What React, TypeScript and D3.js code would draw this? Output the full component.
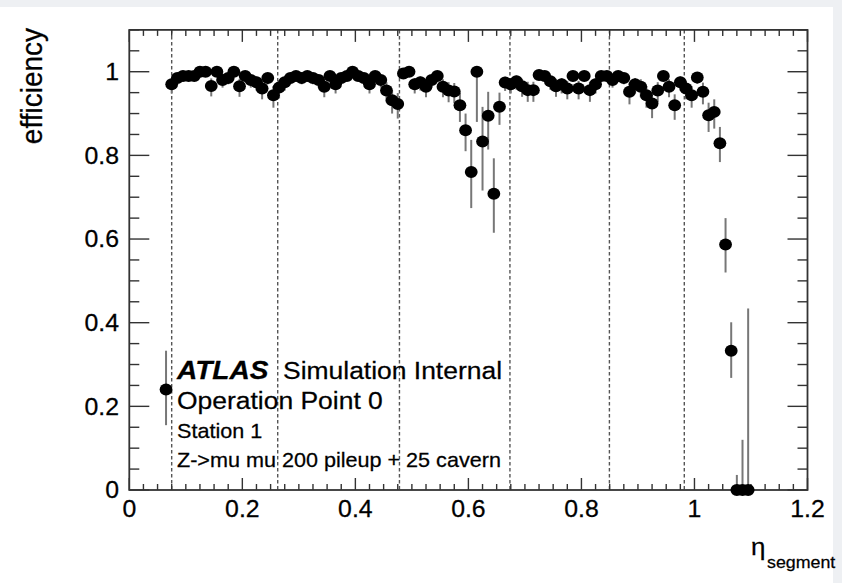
import React from "react";
import * as d3 from "d3";

// bin centres in eta_segment
const eta = [
  0.065, 0.075, 0.085, 0.095, 0.105, 0.115, 0.125, 0.135, 0.145, 0.155, 0.165,
  0.175, 0.185, 0.195, 0.205, 0.215, 0.225, 0.235, 0.245, 0.255, 0.265,
  0.275, 0.285, 0.295, 0.305, 0.315, 0.325, 0.335, 0.345, 0.355, 0.365,
  0.375, 0.385, 0.395, 0.405, 0.415, 0.425, 0.435, 0.445, 0.455, 0.465,
  0.475, 0.485, 0.495, 0.505, 0.515, 0.525, 0.535, 0.545, 0.555, 0.565,
  0.575, 0.585, 0.595, 0.605, 0.615, 0.625, 0.635, 0.645, 0.655, 0.665,
  0.675, 0.685, 0.695, 0.705, 0.715, 0.725, 0.735, 0.745, 0.755, 0.765,
  0.775, 0.785, 0.795, 0.805, 0.815, 0.825, 0.835, 0.845, 0.855, 0.865,
  0.875, 0.885, 0.895, 0.905, 0.915, 0.925, 0.935, 0.945, 0.955, 0.965,
  0.975, 0.985, 0.995, 1.005, 1.015, 1.025, 1.035, 1.045, 1.055, 1.065,
  1.075, 1.085, 1.095,
];

const efficiency = [
  0.24,
  0.97, 0.985, 0.99, 0.99, 0.99, 1.0, 1.0, 0.966, 1.0, 0.98,
  0.985, 1.0, 0.965, 0.99, 0.98, 0.975, 0.96, 0.985, 0.944, 0.962,
  0.975, 0.985, 0.99, 0.985, 0.99, 0.985, 0.98, 0.964, 0.99, 0.97,
  0.985, 0.99, 1.0, 0.99, 0.985, 0.97, 0.99, 0.98, 0.955, 0.932,
  0.923, 0.996, 1.0, 0.97, 0.975, 0.964, 0.98, 0.99, 0.964, 0.955,
  0.953, 0.92, 0.86, 0.76, 1.0, 0.833, 0.895, 0.708, 0.916, 0.974,
  0.97, 0.977, 0.965, 0.956, 0.956, 0.992, 0.99, 0.977, 0.965, 0.97,
  0.96, 0.99, 0.96, 0.99, 0.956, 0.97, 0.99, 0.99, 0.98, 0.99,
  0.985, 0.952, 0.97, 0.964, 0.944, 0.924, 0.955, 0.99, 0.964, 0.92,
  0.975, 0.96, 0.944, 0.986, 0.952, 0.896, 0.904, 0.829, 0.587, 0.333,
  0, 0, 0,
];

const errLow = [
  0.085,
  0.022, 0.015, 0.012, 0.012, 0.012, 0.01, 0.01, 0.025, 0.01, 0.018,
  0.015, 0.01, 0.025, 0.012, 0.018, 0.02, 0.026, 0.015, 0.03, 0.026,
  0.02, 0.015, 0.012, 0.015, 0.012, 0.015, 0.018, 0.025, 0.012, 0.022,
  0.015, 0.012, 0.01, 0.012, 0.015, 0.022, 0.012, 0.018, 0.028, 0.032,
  0.035, 0.01, 0.01, 0.022, 0.02, 0.025, 0.018, 0.012, 0.025, 0.028,
  0.028, 0.04, 0.05, 0.086, 0.12, 0.117, 0.081, 0.093, 0.043, 0.02,
  0.022, 0.02, 0.025, 0.028, 0.028, 0.012, 0.012, 0.02, 0.025, 0.022,
  0.026, 0.012, 0.026, 0.012, 0.028, 0.022, 0.012, 0.012, 0.018, 0.012,
  0.015, 0.03, 0.022, 0.025, 0.03, 0.035, 0.028, 0.012, 0.025, 0.035,
  0.02, 0.026, 0.03, 0.015, 0.03, 0.04, 0.04, 0.045, 0.067, 0.065,
  0, 0, 0,
];

const errHigh = [
  0.093,
  0.015, 0.01, 0.007, 0.007, 0.007, 0, 0, 0.018, 0, 0.012,
  0.01, 0, 0.018, 0.007, 0.012, 0.014, 0.018, 0.01, 0.022, 0.018,
  0.014, 0.01, 0.007, 0.01, 0.007, 0.01, 0.012, 0.018, 0.007, 0.015,
  0.01, 0.007, 0, 0.007, 0.01, 0.015, 0.007, 0.012, 0.02, 0.024,
  0.026, 0.003, 0, 0.015, 0.014, 0.018, 0.012, 0.007, 0.018, 0.02,
  0.02, 0.03, 0.04, 0.077, 0, 0.083, 0.057, 0.085, 0.034, 0.014,
  0.015, 0.014, 0.018, 0.02, 0.02, 0.006, 0.007, 0.014, 0.018, 0.015,
  0.018, 0.007, 0.018, 0.007, 0.02, 0.015, 0.007, 0.007, 0.012, 0.007,
  0.01, 0.022, 0.015, 0.018, 0.022, 0.026, 0.02, 0.007, 0.018, 0.026,
  0.014, 0.018, 0.022, 0.01, 0.022, 0.03, 0.03, 0.039, 0.063, 0.068,
  0.036, 0.12, 0.434,
];

// vertical dashed boundaries
const boundaries = [0.075, 0.2626, 0.478, 0.6735, 0.8495, 0.982];

const xTicks = [0, 0.2, 0.4, 0.6, 0.8, 1.0, 1.2];
const xTickLabels = ["0", "0.2", "0.4", "0.6", "0.8", "1", "1.2"];
const yTicks = [0, 0.2, 0.4, 0.6, 0.8, 1.0];
const yTickLabels = ["0", "0.2", "0.4", "0.6", "0.8", "1"];

const legendLines = [
  "Operation Point 0",
  "Station 1",
  "Z->mu mu 200 pileup + 25 cavern",
];

const W = 842;
const H = 583;
const L = 129.3;
const R = 807.5;
const T = 29.9;
const B = 490;
const SX = 1.08;
const FONT = "'Liberation Sans', Arial, Helvetica, sans-serif";

function Txt(props: any) {
  const { x, y, size, anchor = "start", weight = "normal", italic = false, rotate = 0, children } = props;
  return (
    <text
      transform={`translate(${x},${y}) scale(${SX},1)${rotate ? ` rotate(${rotate})` : ""}`}
      fontSize={size}
      textAnchor={anchor}
      fontWeight={weight}
      fontStyle={italic ? "italic" : "normal"}
      fontFamily={FONT}
      fill="#000"
      stroke="#000"
      strokeWidth={0.25}
    >
      {children}
    </text>
  );
}

export default function App() {
  const x = d3.scaleLinear().domain([0, 1.2]).range([L, R]);
  const y = d3.scaleLinear().domain([0, 1.1]).range([B, T]);

  const xMinor = d3.range(0, 1.2001, 0.025);
  const yMinor = d3.range(0, 1.1001, 0.05);

  const axisColor = "#333";

  return (
    <svg
      width={W}
      height={H}
      style={{ position: "absolute", left: 0, top: 0, background: "#fff" }}
    >
      <rect x={0} y={0} width={W} height={H} fill="#eef0f3" />
      <rect x={0} y={7} width={833} height={H - 7} fill="#fff" />

      {/* dashed boundaries */}
      {boundaries.map((b, i) => (
        <line
          key={"b" + i}
          x1={x(b)}
          x2={x(b)}
          y1={T}
          y2={B}
          stroke="#555"
          strokeWidth={1.4}
          strokeDasharray="3.5,2.5"
        />
      ))}

      {/* ticks */}
      {xMinor.map((t, i) => {
        const major = Math.abs(t / 0.2 - Math.round(t / 0.2)) < 1e-6;
        const len = major ? 12 : 6;
        return (
          <g key={"xt" + i}>
            <line x1={x(t)} x2={x(t)} y1={B} y2={B - len} stroke={axisColor} strokeWidth={1.4} />
            <line x1={x(t)} x2={x(t)} y1={T} y2={T + len} stroke={axisColor} strokeWidth={1.4} />
          </g>
        );
      })}
      {yMinor.map((t, i) => {
        const major = Math.abs(t / 0.2 - Math.round(t / 0.2)) < 1e-6;
        const len = major ? 20 : 10;
        return (
          <g key={"yt" + i}>
            <line x1={L} x2={L + len} y1={y(t)} y2={y(t)} stroke={axisColor} strokeWidth={1.4} />
            <line x1={R} x2={R - len} y1={y(t)} y2={y(t)} stroke={axisColor} strokeWidth={1.4} />
          </g>
        );
      })}

      {/* frame */}
      <rect x={L} y={T} width={R - L} height={B - T} fill="none" stroke={axisColor} strokeWidth={1.8} />

      {/* error bars */}
      {eta.map((e, i) => (
        <line
          key={"e" + i}
          x1={x(e)}
          x2={x(e)}
          y1={y(efficiency[i] - errLow[i])}
          y2={y(efficiency[i] + errHigh[i])}
          stroke="#777"
          strokeWidth={2}
        />
      ))}

      {/* markers */}
      {eta.map((e, i) => (
        <ellipse key={"m" + i} cx={x(e)} cy={y(efficiency[i])} rx={6.4} ry={6} fill="#000" />
      ))}

      {/* tick labels */}
      {xTicks.map((t, i) => (
        <Txt key={"xl" + i} x={x(t)} y={517} size={23} anchor="middle">
          {xTickLabels[i]}
        </Txt>
      ))}
      {yTicks.map((t, i) => (
        <Txt key={"yl" + i} x={119} y={y(t) + 8.2} size={23} anchor="end">
          {yTickLabels[i]}
        </Txt>
      ))}

      {/* axis titles */}
      <Txt x={42} y={28} size={28} anchor="end" rotate={-90}>
        efficiency
      </Txt>
      <Txt x={751} y={555} size={24}>
        η
      </Txt>
      <Txt x={767} y={568} size={16.5}>
        segment
      </Txt>

      {/* legend */}
      <Txt x={177} y={379} size={26} weight="bold" italic>
        ATLAS
      </Txt>
      <Txt x={283} y={379} size={24.5}>
        Simulation Internal
      </Txt>
      <Txt x={177} y={409} size={24.5}>
        {legendLines[0]}
      </Txt>
      <Txt x={177} y={438} size={20}>
        {legendLines[1]}
      </Txt>
      <Txt x={177} y={466.5} size={20}>
        {legendLines[2]}
      </Txt>
    </svg>
  );
}
